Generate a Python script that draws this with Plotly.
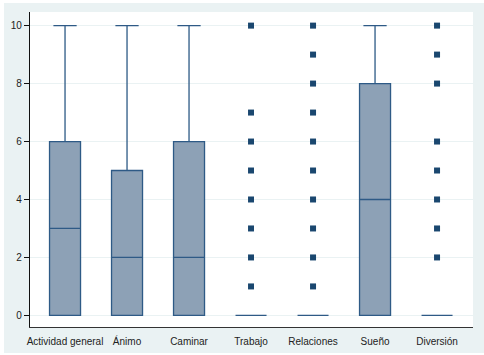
import plotly.graph_objects as go

categories = ["Actividad general", "Ánimo", "Caminar", "Trabajo", "Relaciones", "Sueño", "Diversión"]
q1 = [0, 0, 0, 0, 0, 0, 0]
median = [3, 2, 2, 0, 0, 4, 0]
q3 = [6, 5, 6, 0, 0, 8, 0]
lowerfence = [0, 0, 0, 0, 0, 0, 0]
upperfence = [10, 10, 10, 0, 0, 10, 0]

outliers_trabajo = [1, 2, 3, 4, 5, 6, 7, 10]
outliers_relaciones = [1, 2, 3, 4, 5, 6, 7, 8, 9, 10]
outliers_diversion = [2, 3, 4, 5, 6, 8, 9, 10]
y_ticks = [0, 2, 4, 6, 8, 10]

out_x = (["Trabajo"] * len(outliers_trabajo) + ["Relaciones"] * len(outliers_relaciones)
         + ["Diversión"] * len(outliers_diversion))
out_y = outliers_trabajo + outliers_relaciones + outliers_diversion

fig = go.Figure()
fig.add_trace(go.Box(
    x=categories, q1=q1, median=median, q3=q3,
    lowerfence=lowerfence, upperfence=upperfence,
    fillcolor="#8DA1B6", line=dict(color="#2E5A86", width=1.3),
    whiskerwidth=0.75, boxpoints=False, showlegend=False, hoverinfo="skip"))
fig.add_trace(go.Scatter(
    x=out_x, y=out_y, mode="markers",
    marker=dict(symbol="square", size=6, color="#1A476F"),
    showlegend=False, hoverinfo="skip"))

W, H = 484, 355
L, R, T, B = 30, 11, 12, 28
pw, ph = W - L - R, H - T - B
def px(xp):
    return (xp - L) / pw
def py(yp):
    return (H - B - yp) / ph

shapes = [
    dict(type="rect", xref="paper", yref="paper", x0=px(0), x1=px(4), y0=py(H), y1=py(0),
         fillcolor="white", line=dict(width=0), layer="above"),
    dict(type="rect", xref="paper", yref="paper", x0=px(0), x1=px(W), y0=py(3), y1=py(0),
         fillcolor="white", line=dict(width=0), layer="above"),
    dict(type="rect", xref="paper", yref="paper", x0=px(0), x1=px(W), y0=py(H), y1=py(353),
         fillcolor="white", line=dict(width=0), layer="above"),
]

fig.update_layout(
    width=W, height=H, autosize=False,
    margin=dict(l=L, r=R, t=T, b=B, pad=0),
    paper_bgcolor="#EAF2F3", plot_bgcolor="white",
    font=dict(family="Liberation Sans, Arial, sans-serif", size=10, color="#222222"),
    boxgap=0.5, boxgroupgap=0,
    shapes=shapes,
    xaxis=dict(type="category", categoryorder="array", categoryarray=categories,
               range=[-0.565, 6.58], showgrid=False, zeroline=False, automargin=False,
               showline=True, linecolor="#333333", linewidth=1.2,
               ticks="outside", ticklen=5, tickcolor="rgba(0,0,0,0)",
               tickfont=dict(size=10, color="#222222")),
    yaxis=dict(range=[-0.40, 10.47], tickvals=y_ticks, showgrid=True, automargin=False,
               gridcolor="#EAF2F3", gridwidth=1, zeroline=False,
               showline=True, linecolor="#111111", linewidth=1.2,
               ticks="outside", ticklen=5, tickcolor="#111111",
               tickfont=dict(size=10, color="#222222")),
)

fig.write_html("out.html",
               config={"responsive": False, "displayModeBar": False, "staticPlot": True},
               post_script="document.body.style.margin='0';document.body.style.padding='0';"
                           "document.body.style.overflow='hidden';")
